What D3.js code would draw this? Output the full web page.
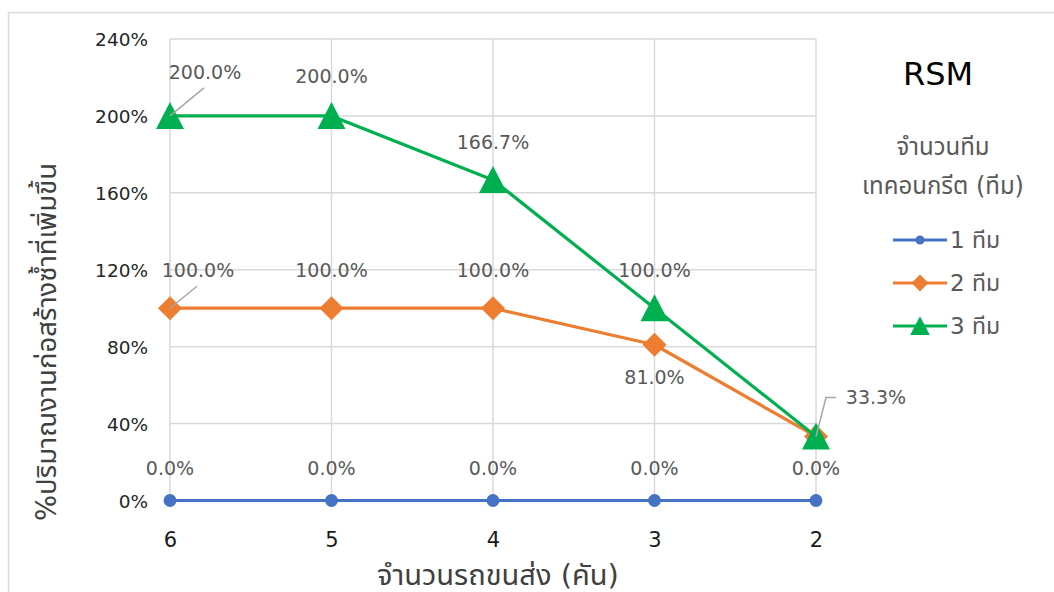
<!DOCTYPE html>
<html>
<head>
<meta charset="utf-8">
<script src="https://cdn.jsdelivr.net/npm/d3@7"></script>
<style>
  html, body { margin: 0; padding: 0; background: #fff; }
  svg { display: block; font-family: "DejaVu Sans", "Noto Sans Thai", "Noto Sans", sans-serif; }
</style>
</head>
<body>
<svg id="chart" width="1054" height="592"></svg>
<script>
// Number of delivery trucks (x categories)
const categories = ["6", "5", "4", "3", "2"];
// % increase in repeated construction work, per number of concrete-pouring teams
const team1 = [0, 0, 0, 0, 0];
const team2 = [1.0, 1.0, 1.0, 0.81, 0.333];
const team3 = [2.0, 2.0, 1.667, 1.0, 0.333];
const seriesNames = ["1 ทีม", "2 ทีม", "3 ทีม"];
const yTicks = [0, 0.4, 0.8, 1.2, 1.6, 2.0, 2.4];

const chartTitle = "RSM";
const legendTitle = ["จำนวนทีม", "เทคอนกรีต (ทีม)"];
const xTitle = "จำนวนรถขนส่ง (คัน)";
const yTitle = "%ปริมาณงานก่อสร้างซ้ำที่เพิ่มขึ้น";

const colors = ["#4472C4", "#ED7D31", "#00B050"];
const markers = ["circle", "diamond", "triangle"];

const svg = d3.select("#chart");

// outer chart border
svg.append("rect")
  .attr("x", 8.5).attr("y", 12.5)
  .attr("width", 1200).attr("height", 800)
  .attr("fill", "#fff").attr("stroke", "#d9d9d9").attr("stroke-width", 1.5);

const x = d3.scalePoint().domain(categories).range([170, 816]).padding(0);
const y = d3.scaleLinear().domain([0, 2.4]).range([500.5, 39]);

// gridlines
const grid = svg.append("g");
grid.selectAll("line.h").data(yTicks).join("line")
  .attr("x1", 170).attr("x2", 816)
  .attr("y1", d => y(d)).attr("y2", d => y(d))
  .attr("stroke", "#d9d9d9").attr("stroke-width", 1.5);
grid.selectAll("line.v").data(categories).join("line")
  .attr("x1", d => x(d)).attr("x2", d => x(d))
  .attr("y1", y(2.4)).attr("y2", y(0))
  .attr("stroke", "#d9d9d9").attr("stroke-width", 1.5);

// y axis tick labels
const yAxis = d3.axisLeft(y).tickValues(yTicks).tickSize(0).tickPadding(0)
  .tickFormat(d => Math.round(d * 100) + "%");
const yg = svg.append("g").attr("transform", "translate(148,0)").call(yAxis);
yg.select(".domain").remove();
yg.selectAll("text").attr("font-size", 18.5).attr("fill", "#262626")
  .attr("font-family", "'DejaVu Sans', sans-serif").attr("dy", "0.36em");

// x axis tick labels
const xAxis = d3.axisBottom(x).tickSize(0).tickPadding(0);
const xg = svg.append("g").attr("transform", "translate(0,539)").call(xAxis);
xg.select(".domain").remove();
xg.selectAll("text").attr("font-size", 21).attr("fill", "#1a1a1a")
  .attr("font-family", "'DejaVu Sans', sans-serif")
  .attr("y", 0).attr("dy", "0.36em");

// axis titles
svg.append("text")
  .attr("x", 498).attr("y", 575)
  .attr("text-anchor", "middle").attr("dominant-baseline", "central")
  .attr("font-size", 29).attr("fill", "#404040")
  .text(xTitle);
svg.append("text")
  .attr("transform", "translate(46,342) rotate(-90)")
  .attr("text-anchor", "middle").attr("dominant-baseline", "central")
  .attr("font-size", 27.5).attr("fill", "#404040")
  .text(yTitle);

// marker shapes
function markerPath(kind) {
  if (kind === "circle") return d3.symbol(d3.symbolCircle, 130)();
  if (kind === "diamond") return "M0,-12L12,0L0,12L-12,0Z";
  return "M0,-14L14,13L-14,13Z";
}

const allSeries = [team1, team2, team3];
const line = d3.line().x((d, i) => x(categories[i])).y(d => y(d));

allSeries.forEach((vals, s) => {
  const g = svg.append("g");
  g.append("path").datum(vals)
    .attr("d", line).attr("fill", "none")
    .attr("stroke", colors[s]).attr("stroke-width", 3.2)
    .attr("stroke-linejoin", "round");
  g.selectAll("path.m").data(vals).join("path")
    .attr("class", "m")
    .attr("d", markerPath(markers[s]))
    .attr("transform", (d, i) => `translate(${x(categories[i])},${y(d)})`)
    .attr("fill", colors[s]);
});

// data label placement: [series, index, dx, dy, leader]
const labelPlacement = [
  [0, 0, 0, -32], [0, 1, 0, -32], [0, 2, 0, -32], [0, 3, 0, -32], [0, 4, 0, -32],
  [1, 0, 28, -38, true], [1, 1, 0, -38], [1, 2, 0, -38], [1, 3, 0, 32],
  [2, 0, 35, -44, true], [2, 1, 0, -40], [2, 2, 0, -38], [2, 3, 0, -38], [2, 4, 60, -39, "elbow"]
];

const fmt = d3.format(".1%");
const labels = svg.append("g");
labelPlacement.forEach(([s, i, dx, dy, leader]) => {
  const v = allSeries[s][i];
  const px = x(categories[i]), py = y(v);
  if (leader === true) {
    labels.append("line")
      .attr("x1", px).attr("y1", py)
      .attr("x2", px + dx - 1).attr("y2", py + dy + 16)
      .attr("stroke", "#a6a6a6").attr("stroke-width", 1.5);
  } else if (leader === "elbow") {
    labels.append("path")
      .attr("d", `M${px},${py}L${px + 10},${py + dy}L${px + 20},${py + dy}`)
      .attr("fill", "none").attr("stroke", "#a6a6a6").attr("stroke-width", 1.5);
  }
  labels.append("text")
    .attr("x", px + dx).attr("y", py + dy)
    .attr("text-anchor", "middle").attr("dy", "0.36em")
    .attr("font-size", 19).attr("fill", "#595959")
    .attr("font-family", "'DejaVu Sans', sans-serif")
    .text(fmt(v));
});

// chart title and legend
svg.append("text")
  .attr("x", 938).attr("y", 73)
  .attr("text-anchor", "middle").attr("dy", "0.36em")
  .attr("font-size", 32).attr("fill", "#000")
  .attr("font-family", "'DejaVu Sans', sans-serif")
  .text(chartTitle);

legendTitle.forEach((t, k) => {
  svg.append("text")
    .attr("x", 943).attr("y", 147 + k * 39)
    .attr("text-anchor", "middle").attr("dominant-baseline", "central")
    .attr("font-size", 24).attr("fill", "#595959")
    .text(t);
});

const legend = svg.append("g");
seriesNames.forEach((name, s) => {
  const ly = 240 + s * 43;
  legend.append("line")
    .attr("x1", 893).attr("x2", 947).attr("y1", ly).attr("y2", ly)
    .attr("stroke", colors[s]).attr("stroke-width", 3.2);
  legend.append("path")
    .attr("d", markerPath(markers[s]))
    .attr("transform", `translate(920,${ly}) scale(0.7)`)
    .attr("fill", colors[s]);
  legend.append("text")
    .attr("x", 950).attr("y", ly)
    .attr("dominant-baseline", "central")
    .attr("font-size", 23).attr("fill", "#595959")
    .text(name);
});
</script>
</body>
</html>
